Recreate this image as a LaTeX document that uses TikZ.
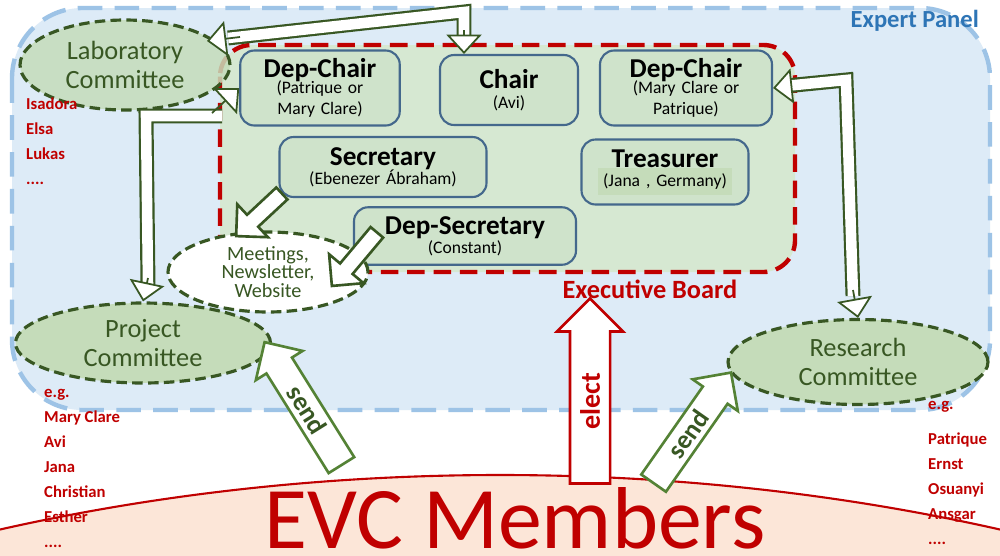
\documentclass[tikz,border=0pt]{standalone}
\usepackage{fontspec}
\setmainfont{Carlito}
\usetikzlibrary{shapes.arrows,shapes.geometric,arrows.meta}
\definecolor{panelfill}{RGB}{221,235,247}
\definecolor{paneldraw}{RGB}{157,195,230}
\definecolor{boardfill}{RGB}{214,232,210}
\definecolor{boxfill}{RGB}{207,227,203}
\definecolor{boxdraw}{RGB}{68,104,140}
\definecolor{comfill}{RGB}{197,220,186}
\definecolor{darkgreen}{RGB}{56,87,35}
\definecolor{sendgreen}{RGB}{84,130,53}
\definecolor{evcred}{RGB}{192,0,0}
\definecolor{evcfill}{RGB}{252,230,216}
\definecolor{panelblue}{RGB}{46,117,182}
\tikzset{
  role/.style={draw=boxdraw, fill=boxfill, line width=1.2pt, rounded corners=8pt, align=center, inner sep=2pt},
  committee/.style={ellipse, draw=darkgreen, fill=comfill, line width=1.8pt, dash pattern=on 6pt off 3pt,
    text=darkgreen, font=\fontsize{15}{17}\selectfont, align=center, inner sep=1pt},
  names/.style={anchor=north west, text=evcred, font=\bfseries\fontsize{9.5}{14.2}\selectfont, align=left},
  shaft/.style={line width=8.5pt, draw=darkgreen, postaction={draw=white, line width=6pt}},
  fathead/.style={line width=1pt, draw=darkgreen, -{Triangle[length=11pt,width=20pt,fill=white]}},
  bigarrow/.style={single arrow, draw, fill=white, line width=1.5pt, inner sep=2.5pt},
}
\newcommand{\rolehead}{\bfseries\fontsize{15.5}{16}\selectfont}
\newcommand{\rolesub}{\fontsize{10}{11}\selectfont}
\begin{document}
\begin{tikzpicture}[x=0.02cm,y=-0.02cm]
  \useasboundingbox (0,0) rectangle (1000,555);
  \fill[white] (0,0) rectangle (1000,555);
  % expert panel
  \draw[fill=panelfill, draw=paneldraw, line width=2.5pt, dash pattern=on 14pt off 7pt, rounded corners=40pt]
    (12,8) rectangle (990,410);
  \node[anchor=north east, text=panelblue, font=\bfseries\fontsize{14}{15}\selectfont] (panel) at (985,4) {Expert Panel};
  % members
  \begin{scope}
    \clip (0,0) rectangle (1000,555);
    \draw[fill=evcfill, draw=evcred, line width=1.2pt] (500,1500) ellipse [x radius=1550, y radius=1025];
  \end{scope}
  \node[anchor=base, text=evcred, font=\fontsize{50}{52}\selectfont] (evc) at (515,548) {EVC Members};
  % executive board
  \draw[fill=boardfill, draw=evcred, line width=2.5pt, dash pattern=on 10pt off 5pt, rounded corners=18pt]
    (220,45) rectangle (795,272);
  \node[text=evcred, font=\bfseries\fontsize{15}{16}\selectfont] (board) at (650,289) {Executive Board};
  % roles
  \node[role, text width=3.05cm, minimum height=1.5cm] (depchairL) at (320,88)
    {{\rolehead Dep-Chair}\\[-2pt]{\rolesub(Patrique or\\Mary Clare)}};
  \node[role, minimum width=2.76cm, minimum height=1.4cm] (chair) at (509,90)
    {{\rolehead Chair}\\[-1pt]{\rolesub(Avi)}};
  \node[role, text width=3.3cm, minimum height=1.5cm] (depchairR) at (686,88)
    {{\rolehead Dep-Chair}\\[-2pt]{\rolesub(Mary Clare or\\Patrique)}};
  \node[role, text width=4cm, minimum height=1.2cm] (secretary) at (383,167)
    {{\rolehead Secretary}\\[-1pt]{\rolesub(Ebenezer Ábraham)}};
  \node[role, text width=3.2cm, minimum height=1.3cm] (treasurer) at (665,172)
    {{\rolehead Treasurer}\\[-1pt]\colorbox{comfill}{\rolesub(Jana , Germany)}};
  \node[role, text width=4.3cm, minimum height=1.15cm] (depsec) at (465,236)
    {{\rolehead Dep-Secretary}\\[-1pt]{\rolesub(Constant)}};
  % committees
  \node[committee, minimum width=4.2cm, minimum height=1.8cm, fill opacity=0.85, text opacity=1] (lab) at (125,65) {Laboratory\\Committee};
  \node[committee, minimum width=5.1cm, minimum height=1.6cm] (project) at (143,343) {Project\\Committee};
  \node[committee, minimum width=5.2cm, minimum height=1.7cm] (research) at (858,362) {Research\\Committee};
  \node[committee, fill=white, minimum width=4cm, minimum height=1.6cm, font=\fontsize{11.5}{10.5}\selectfont] (meet) at (268,272)
    {Meetings,\\Newsletter,\\Website};
  % fat connectors
  \draw[shaft] (228,38) -- (464,12) -- (464,36);
  \draw[fathead] (240,37) -- (207,41);
  \draw[fathead] (464,30) -- (chair.north-|464,0);
  \draw[shaft] (222,116) -- (146,116) -- (148,284);
  \draw[fathead] (212,113) -- (depchairL.west);
  \draw[fathead] (148,278) -- (project.north);
  \draw[shaft] (785,86) -- (846,80) -- (853,296);
  \draw[fathead] (792,86) -- (depchairR.east);
  \draw[fathead] (853,290) -- (research.north);
  \node[bigarrow, draw=darkgreen, minimum height=1.25cm, minimum width=0.9cm, single arrow head extend=0.2cm,
    rotate=-137] (secarrow) at (262,212) {};
  \node[bigarrow, draw=darkgreen, minimum height=1.4cm, minimum width=0.9cm, single arrow head extend=0.2cm,
    rotate=-130] (deparrow) at (357,256) {};
  % send and elect
  \node[bigarrow, draw=sendgreen, text=darkgreen, font=\bfseries\fontsize{15}{15}\selectfont, minimum height=2.9cm,
    single arrow head extend=0.25cm, shape border rotate=180, rotate=-58] (sendL) at (307,410) {send};
  \node[bigarrow, draw=sendgreen, text=darkgreen, font=\bfseries\fontsize{15}{15}\selectfont, minimum height=2.7cm,
    single arrow head extend=0.25cm, rotate=55] (sendR) at (688,434) {send};
  \node[bigarrow, draw=evcred, text=evcred, font=\bfseries\fontsize{16}{16}\selectfont, minimum height=3.7cm,
    inner sep=5pt, single arrow head extend=0.26cm, rotate=90] (elect) at (590,401) {elect};
  % member names
  \node[names] (labnames) at (20,92) {Isadora\\Elsa\\Lukas\\....};
  \node[names] (projnames) at (38,383) {e.g.\\Mary Clare\\Avi\\Jana\\Christian\\Esther\\....};
  \node[names] (resnames) at (922,395) {e.g.\\[6pt]Patrique\\Ernst\\Osuanyi\\Ansgar\\....};
\end{tikzpicture}
\end{document}
